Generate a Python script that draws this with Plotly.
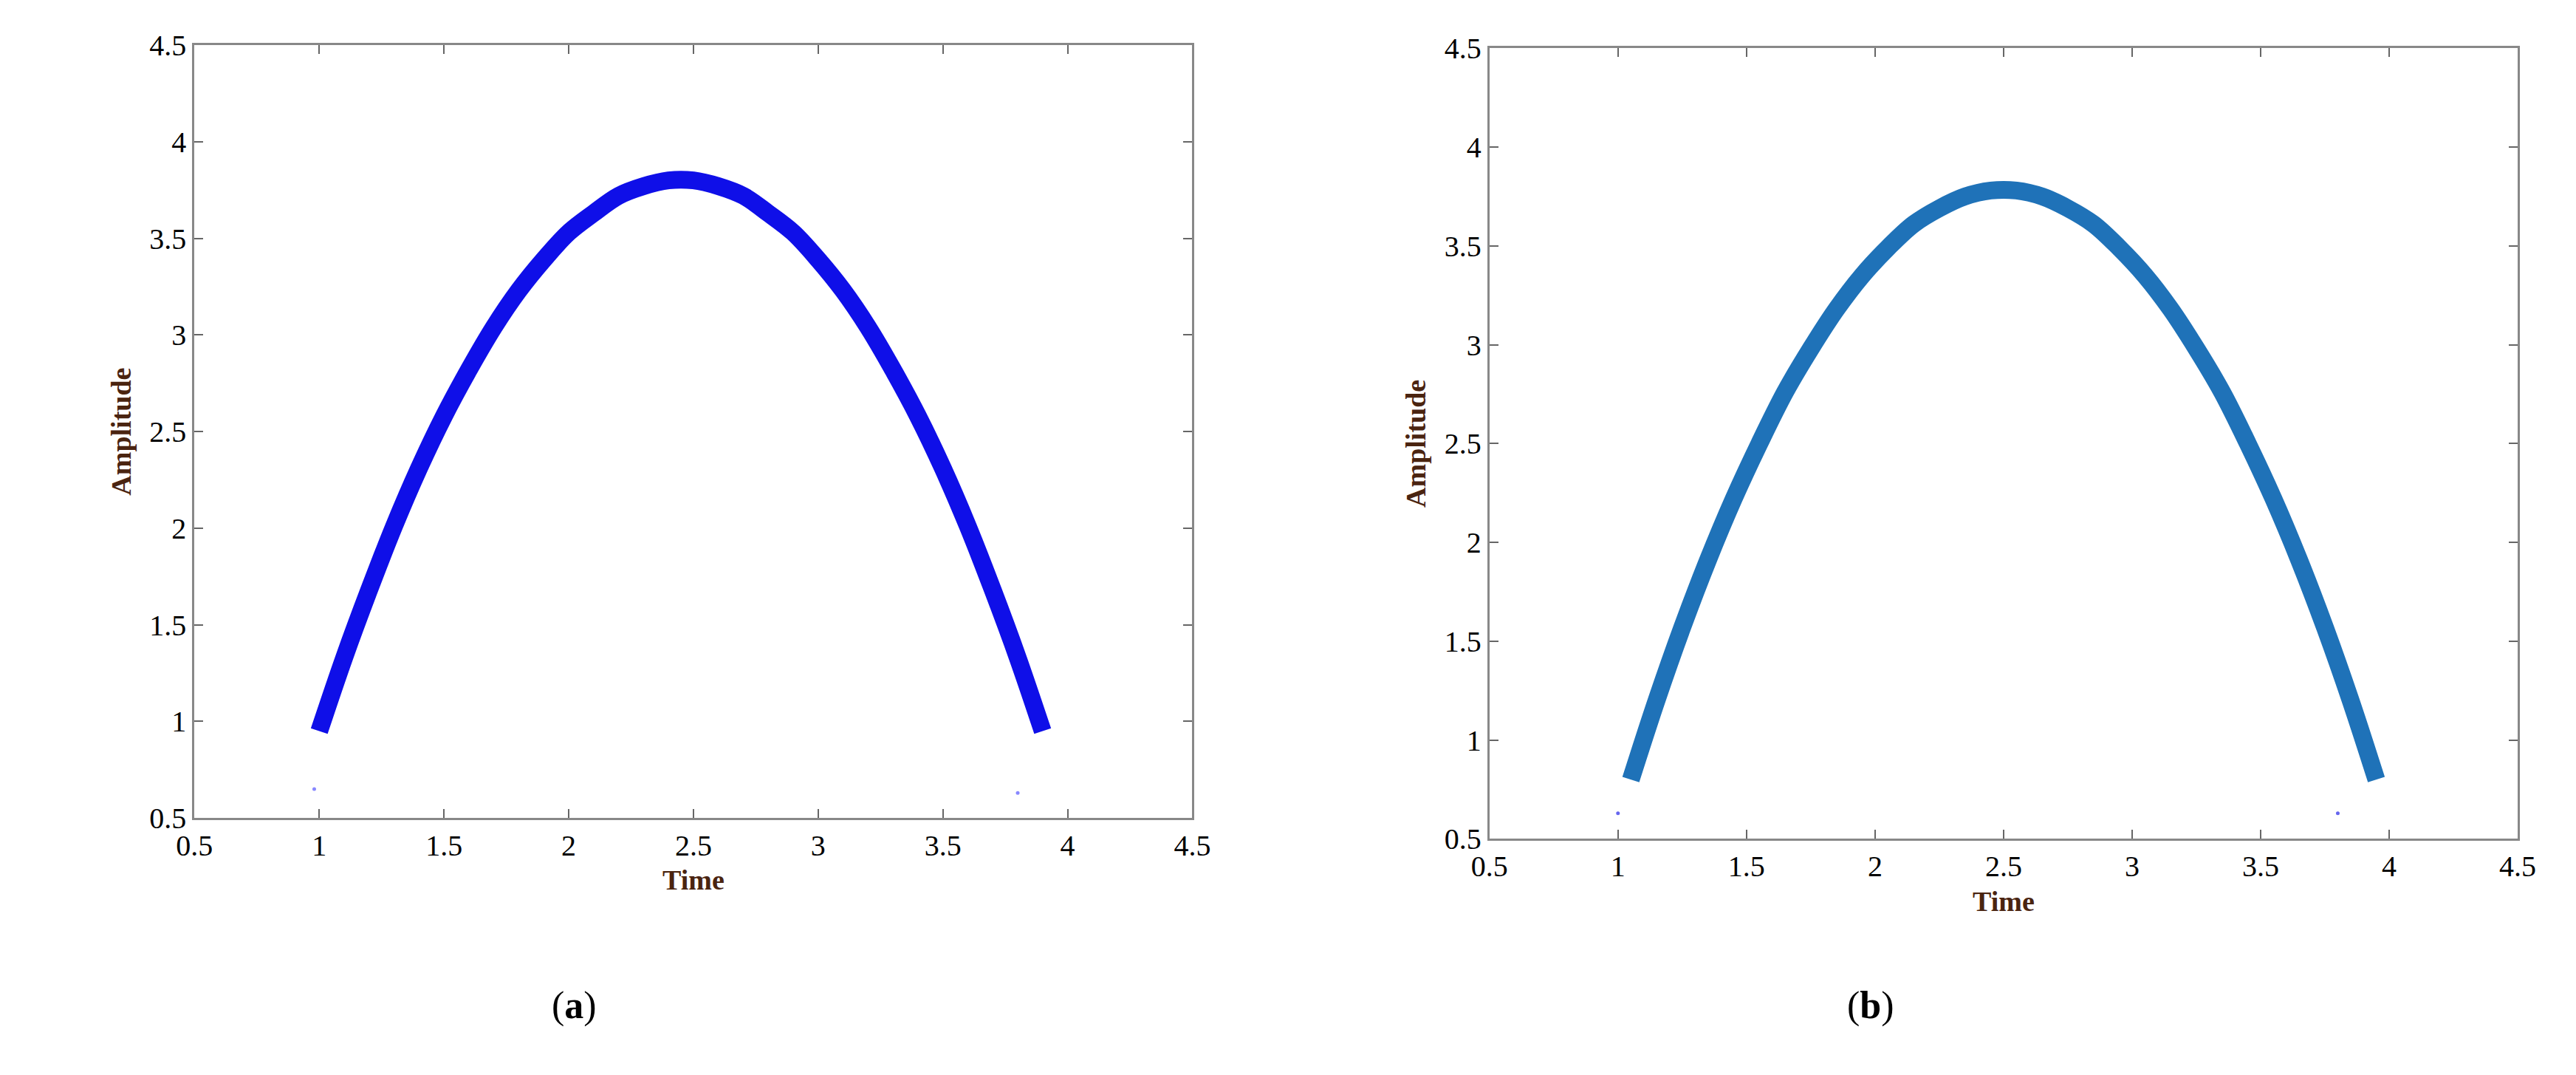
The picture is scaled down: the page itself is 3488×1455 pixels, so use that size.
import plotly.graph_objects as go
from plotly.subplots import make_subplots

# panel (a)
time_a = [1.0, 1.1, 1.2, 1.3, 1.4, 1.5, 1.6, 1.7, 1.8, 1.9, 2.0, 2.1, 2.2, 2.3, 2.4,
          2.5, 2.6, 2.7, 2.8, 2.9, 3.0, 3.1, 3.2, 3.3, 3.4, 3.5, 3.6, 3.7, 3.8, 3.9]
amp_a = [0.95, 1.33, 1.68, 2.01, 2.31, 2.58, 2.82, 3.04, 3.23, 3.39, 3.53, 3.63, 3.72, 3.77, 3.80,
         3.80, 3.77, 3.72, 3.63, 3.53, 3.39, 3.23, 3.04, 2.82, 2.58, 2.31, 2.01, 1.68, 1.33, 0.95]
# panel (b)
time_b = [1.05, 1.15, 1.25, 1.35, 1.45, 1.55, 1.65, 1.75, 1.85, 1.95, 2.05, 2.15, 2.25, 2.35, 2.45,
          2.55, 2.65, 2.75, 2.85, 2.95, 3.05, 3.15, 3.25, 3.35, 3.45, 3.55, 3.65, 3.75, 3.85, 3.95]
amp_b = [0.80, 1.20, 1.57, 1.91, 2.22, 2.50, 2.76, 2.98, 3.18, 3.35, 3.49, 3.61, 3.69, 3.75, 3.78,
         3.78, 3.75, 3.69, 3.61, 3.49, 3.35, 3.18, 2.98, 2.76, 2.50, 2.22, 1.91, 1.57, 1.20, 0.80]
stray_x_a = [0.98, 3.8]
stray_y_a = [0.65, 0.63]
stray_x_b = [1.0, 3.8]
stray_y_b = [0.63, 0.63]
ticks = [0.5, 1, 1.5, 2, 2.5, 3, 3.5, 4, 4.5]
tick_text = ["0.5", "1", "1.5", "2", "2.5", "3", "3.5", "4", "4.5"]

fig = make_subplots(rows=1, cols=2)
fig.add_trace(go.Scatter(x=time_a, y=amp_a, mode="lines", line=dict(color="#0f0fe8", width=24, shape="spline")), 1, 1)
fig.add_trace(go.Scatter(x=time_b, y=amp_b, mode="lines", line=dict(color="#1f72b8", width=24, shape="spline")), 1, 2)
fig.add_trace(go.Scatter(x=stray_x_a, y=stray_y_a, mode="markers", marker=dict(color="#8888ff", size=5)), 1, 1)
fig.add_trace(go.Scatter(x=stray_x_b, y=stray_y_b, mode="markers", marker=dict(color="#6666ee", size=5)), 1, 2)

tick_font = dict(family="Liberation Serif", size=40, color="black")
axis_common = dict(range=[0.5, 4.5], tickvals=ticks, ticktext=tick_text, showgrid=False, zeroline=False,
                   showline=True, mirror="ticks", linecolor="#888888", linewidth=3, ticks="inside",
                   ticklen=12, tickwidth=2, tickcolor="#666666", tickfont=tick_font)
lab_font = dict(family="Liberation Serif", size=38, color="#4a2410")
fig.update_xaxes(**axis_common, title=dict(text="<b>Time</b>", font=lab_font, standoff=12))
fig.update_yaxes(**axis_common, title=dict(text="<b>Amplitude</b>", font=lab_font, standoff=14))
fig.update_xaxes(domain=[0.067, 0.460], row=1, col=1)
fig.update_xaxes(domain=[0.577, 0.982], row=1, col=2)
fig.update_yaxes(domain=[0.236, 0.978], row=1, col=1)
fig.update_yaxes(domain=[0.216, 0.975], row=1, col=2)
for ax in ["xaxis", "xaxis2", "yaxis", "yaxis2"]:
    fig.layout[ax].tickfont = dict(family="Liberation Serif", size=40, color="black")
    fig.layout[ax].tickprefix = "<b>"
    fig.layout[ax].ticksuffix = "</b>"

cap_font = dict(family="Liberation Serif", size=52, color="black")
fig.add_annotation(x=0.207, y=0.034, xref="paper", yref="paper", text="(<b>a</b>)", showarrow=False, font=cap_font)
fig.add_annotation(x=0.737, y=0.034, xref="paper", yref="paper", text="(<b>b</b>)", showarrow=False, font=cap_font)

fig.update_layout(width=3488, height=1455, showlegend=False, plot_bgcolor="white", paper_bgcolor="white",
                  margin=dict(l=0, r=0, t=0, b=0))
fig.write_html("out.html")
